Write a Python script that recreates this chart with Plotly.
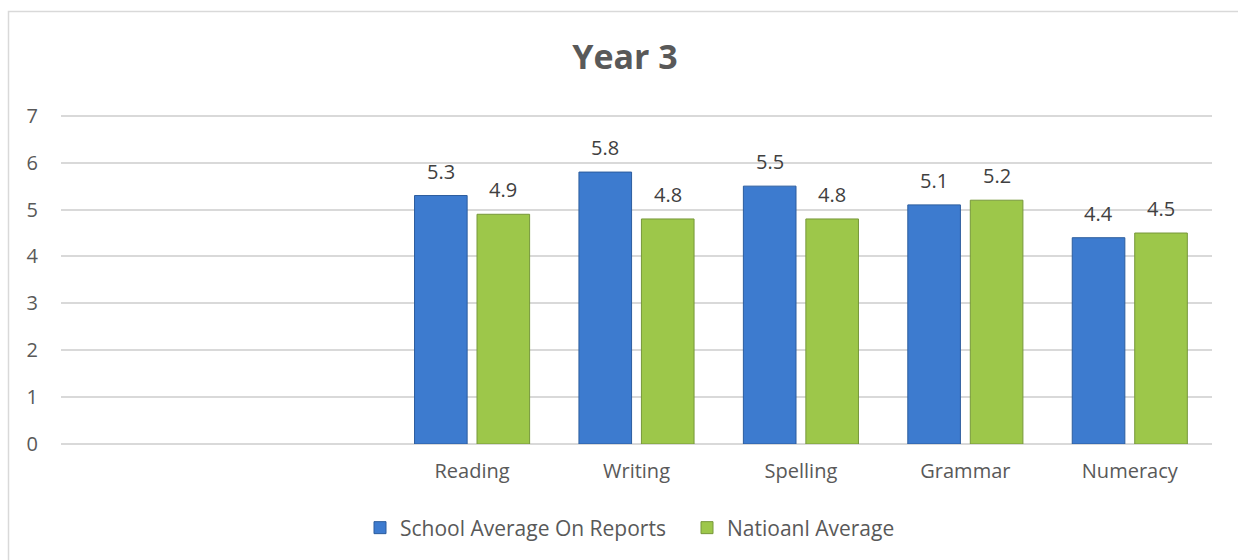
import plotly.graph_objects as go

# Subjects (two leading slots are left empty on the category axis)
slots = [" ", "  ", "Reading", "Writing", "Spelling", "Grammar", "Numeracy"]
subjects = ["Reading", "Writing", "Spelling", "Grammar", "Numeracy"]
school_avg = [5.3, 5.8, 5.5, 5.1, 4.4]
national_avg = [4.9, 4.8, 4.8, 5.2, 4.5]
y_ticks = [0, 1, 2, 3, 4, 5, 6, 7]

W, H = 1238, 560
ML, MR, MT, MB = 61, 26, 113, 116
plot_w = W - ML - MR
plot_h = H - MT - MB
Y_MAX = 7.06

BAR_W = 0.32
BLUE_OFF = -0.35
GREEN_OFF = 0.03
cat_px = plot_w / len(slots)

font_family = "Open Sans, DejaVu Sans, sans-serif"
text_col = "#595959"

fig = go.Figure()
fig.add_trace(go.Bar(
    name="School Average On Reports", x=subjects, y=school_avg,
    width=BAR_W, offset=BLUE_OFF,
    marker=dict(color="#3D7BCF", line=dict(color="#2C5D9E", width=1)),
))
fig.add_trace(go.Bar(
    name="Natioanl Average", x=subjects, y=national_avg,
    width=BAR_W, offset=GREEN_OFF,
    marker=dict(color="#9DC74A", line=dict(color="#77983A", width=1)),
))

# value labels above each bar
for vals, off in ((school_avg, BLUE_OFF), (national_avg, GREEN_OFF)):
    shift = (off + BAR_W / 2) * cat_px
    for s, v in zip(subjects, vals):
        fig.add_annotation(
            x=s, y=v, text=f"{v:.1f}", showarrow=False,
            xshift=shift, yshift=9, yanchor="bottom",
            font=dict(family=font_family, size=20, color="#404040"),
        )

# chart frame (left and top edges only are in view)
fig.add_shape(
    type="rect", xref="paper", yref="paper", layer="below",
    x0=(8.5 - ML) / plot_w, x1=(1245 - ML) / plot_w,
    y0=(MB - 600) / plot_h, y1=(H - 11.5 - MB) / plot_h,
    line=dict(color="#D9D9D9", width=1.5), fillcolor="rgba(0,0,0,0)",
)

fig.update_layout(
    width=W, height=H,
    margin=dict(l=ML, r=MR, t=MT, b=MB),
    paper_bgcolor="white", plot_bgcolor="white",
    title=dict(
        text="<b>Year 3</b>", x=625 / W, xanchor="center",
        y=1 - 57 / H, yanchor="middle",
        font=dict(family=font_family, size=34, color=text_col),
    ),
    showlegend=True,
    legend=dict(
        orientation="h", x=(360 - ML) / plot_w, xanchor="left",
        y=-(528 - (H - MB)) / plot_h, yanchor="middle",
        font=dict(family=font_family, size=21, color=text_col),
        itemwidth=30, entrywidth=282, entrywidthmode="pixels",
        traceorder="normal",
    ),
    barmode="group",
    font=dict(family=font_family, size=20, color=text_col),
)
fig.update_xaxes(
    type="category", categoryorder="array", categoryarray=slots,
    range=[-0.5, len(slots) - 0.5],
    showgrid=False, showline=False, zeroline=False,
    ticks="", ticklabelstandoff=13,
    tickfont=dict(family=font_family, size=20, color=text_col),
)
fig.update_yaxes(
    range=[0, Y_MAX], tickvals=y_ticks, showgrid=True, gridcolor="#D9D9D9",
    gridwidth=1.5, zeroline=True, zerolinecolor="#D9D9D9", zerolinewidth=1.5,
    showline=False, ticks="", ticklabelstandoff=22,
    tickfont=dict(family=font_family, size=20, color=text_col),
)

fig.write_html("out.html")
